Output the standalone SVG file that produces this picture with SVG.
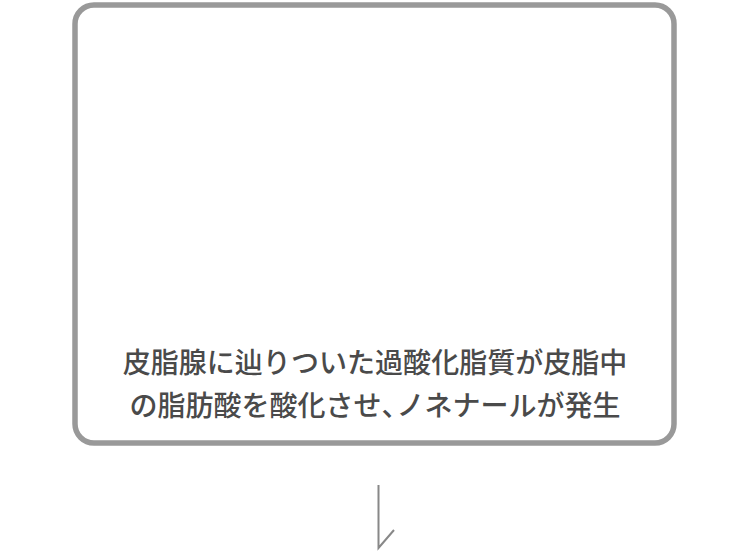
<svg xmlns="http://www.w3.org/2000/svg" width="750" height="560" viewBox="0 0 750 560">
<style>
.box{fill:#fff;stroke:#999;stroke-width:5.5}
.lbl{font-family:"Noto Sans CJK JP","Noto Sans",sans-serif;font-size:28px;font-weight:500;fill:#4a4a4a;text-anchor:middle}
.half{letter-spacing:-13px}
.conn{fill:none;stroke:#888;stroke-width:2}
</style>
<rect width="750" height="560" fill="#fff"/>
<g id="node1">
<rect class="box" x="75" y="5" width="599" height="438" rx="19"/>
<text class="lbl" x="375" y="373">皮脂腺に辿りついた過酸化脂質が皮脂中</text>
<text class="lbl" x="375" y="416">の脂肪酸を酸化させ<tspan class="half">、</tspan>ノネナールが発生</text>
</g>
<g id="connectors">
<path class="conn" d="M378.5 485 V548 L394 530"/>
</g>
</svg>
